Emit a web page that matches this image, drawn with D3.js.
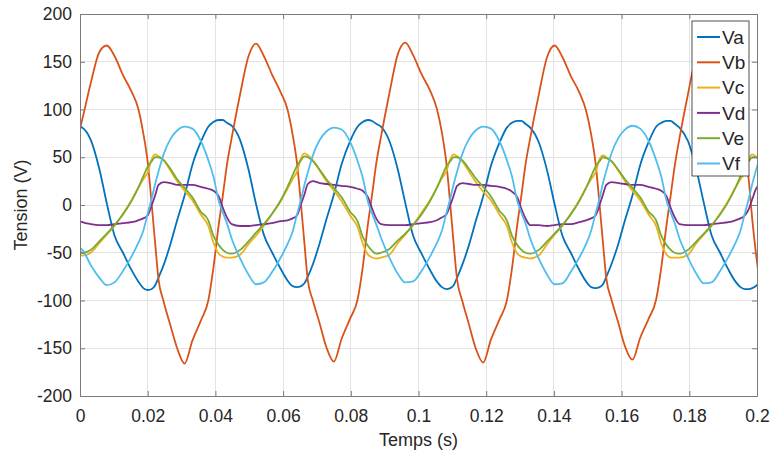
<!DOCTYPE html>
<html>
<head>
<meta charset="utf-8">
<script src="https://cdn.jsdelivr.net/npm/d3@7"></script>
<style>
  html, body { margin: 0; padding: 0; background: #fff; }
  svg { display: block; font-family: "Liberation Sans", Arial, Helvetica, sans-serif; }
</style>
</head>
<body>
<svg id="chart" width="772" height="457"></svg>
<script>
// ---- data ----
const timeS = [0,
 0.0007,0.0032,0.0057,0.0079,0.0102,0.0127,0.0152,0.0172,0.0187,0.0200,0.0212,0.0222,0.0232,0.0247,0.0267,0.0287,0.0309,0.0332,0.0357,0.0379,0.0394,0.0410,0.0422,0.0434,
 0.0448,0.0473,0.0498,0.0520,0.0543,0.0568,0.0593,0.0613,0.0628,0.0641,0.0653,0.0663,0.0673,0.0688,0.0708,0.0728,0.0750,0.0773,0.0798,0.0820,0.0835,0.0851,0.0863,0.0875,
 0.0889,0.0914,0.0939,0.0961,0.0984,0.1009,0.1034,0.1054,0.1069,0.1082,0.1094,0.1104,0.1114,0.1129,0.1149,0.1169,0.1191,0.1214,0.1239,0.1261,0.1276,0.1292,0.1304,0.1316,
 0.1330,0.1355,0.1380,0.1402,0.1425,0.1450,0.1475,0.1495,0.1510,0.1523,0.1535,0.1545,0.1555,0.1570,0.1590,0.1610,0.1632,0.1655,0.1680,0.1702,0.1717,0.1733,0.1745,0.1757,
 0.1771,0.1796,0.1821,0.1843,0.1866,0.1891,0.1916,0.1936,0.1951,0.1964,0.1976,0.1986,0.1996,0.2011];

const Va = [82,
 81,68,38,2,-32,-50,-68,-80,-87,-89,-88,-84,-76,-63,-41,-16,10,42,66,82,87,89,89,86,
 83,68,37,1,-31,-50,-67,-79,-85,-86,-85,-82,-75,-62,-40,-15,11,43,67,82,87,89,88,85,
 82,67,37,2,-32,-51,-68,-80,-86,-88,-87,-84,-76,-63,-42,-17,9,41,65,81,86,88,88,85,
 81,66,36,1,-32,-50,-68,-80,-86,-87,-86,-83,-75,-62,-41,-16,10,42,66,82,86,88,88,85,
 81,67,37,2,-32,-50,-68,-80,-86,-88,-88,-87,-85,-80];

const Vb = [80,
 90,128,160,167,156,136,119,101,75,45,0,-40,-78,-101,-126,-150,-166,-142,-121,-100,-66,-20,10,42,
 70,116,156,169,156,136,118,100,74,44,0,-40,-79,-100,-124,-149,-164,-140,-119,-99,-66,-19,11,43,
 71,117,158,170,157,137,120,101,76,45,0,-41,-78,-100,-125,-150,-165,-141,-120,-100,-67,-20,10,42,
 70,115,155,167,155,135,118,99,74,44,0,-40,-77,-99,-123,-148,-162,-139,-119,-99,-66,-20,10,41,
 70,116,156,166,154,134,117,100,82,60,25,-15,-48,-88];

const Vc = [-52,
 -53,-50,-40,-31,-22,-9,5,18,27,34,48,53,51,47,36,25,15,5,-10,-22,-39,-51,-54,-55,
 -55,-52,-41,-32,-22,-9,4,17,27,35,49,54,52,47,36,25,15,4,-11,-23,-40,-52,-55,-56,
 -55,-52,-40,-31,-21,-8,5,18,28,35,48,53,51,46,35,24,14,5,-10,-22,-39,-51,-54,-55,
 -56,-53,-41,-31,-22,-9,5,18,27,34,48,52,50,46,36,25,15,5,-10,-22,-40,-52,-55,-55,
 -55,-52,-40,-31,-22,-9,5,18,27,34,48,53,51,47];

const Vd = [-17,
 -18,-20,-21,-21,-20,-19,-18,-16,-14,-11,0,10,21,24,23,21,21,21,19,17,15,9,-3,-13,
 -20,-22,-22,-21,-20,-19,-17,-16,-14,-11,1,11,22,25,23,22,21,20,19,17,15,8,-4,-14,
 -20,-21,-21,-21,-20,-19,-18,-16,-13,-10,0,10,20,23,22,21,21,20,19,17,14,8,-4,-14,
 -21,-21,-22,-21,-20,-20,-18,-16,-14,-11,0,11,21,24,23,22,21,21,19,17,15,9,-3,-13,
 -20,-21,-21,-21,-20,-19,-18,-16,-14,-11,-4,6,16,24];

const Ve = [-49,
 -50,-47,-38,-30,-21,-10,4,18,30,40,46,50,50,47,38,27,18,8,-7,-16,-32,-42,-47,-50,
 -51,-47,-38,-29,-20,-9,5,19,31,41,47,51,50,46,37,27,18,8,-7,-17,-33,-43,-48,-51,
 -50,-46,-37,-30,-21,-10,4,18,30,40,46,50,50,47,38,28,19,9,-6,-16,-32,-42,-47,-50,
 -51,-47,-38,-30,-21,-10,4,18,30,40,46,50,49,46,37,27,18,8,-7,-16,-32,-42,-47,-50,
 -51,-47,-38,-30,-21,-10,4,18,30,40,46,50,50,47];

const Vf = [-45,
 -47,-63,-76,-84,-81,-69,-54,-40,-27,-9,7,22,35,53,69,78,82,80,67,47,30,4,-8,-19,
 -35,-56,-73,-83,-81,-70,-55,-41,-28,-10,6,21,34,52,68,77,81,79,66,46,29,3,-9,-20,
 -34,-55,-72,-81,-80,-69,-54,-40,-27,-9,7,22,35,53,69,78,82,80,67,47,30,4,-8,-19,
 -35,-56,-73,-83,-82,-70,-55,-41,-27,-9,7,23,36,54,70,79,83,80,67,47,30,4,-8,-19,
 -35,-55,-72,-82,-81,-69,-54,-40,-27,-9,7,22,35,53];

const seriesNames = ["Va","Vb","Vc","Vd","Ve","Vf"];
const seriesColors = ["#0072BD","#D95319","#EDB120","#7E2F8E","#77AC30","#4DBEEE"];
const xTicks = [0,0.02,0.04,0.06,0.08,0.1,0.12,0.14,0.16,0.18,0.2];
const xTickLabels = ["0","0.02","0.04","0.06","0.08","0.1","0.12","0.14","0.16","0.18","0.2"];
const yTicks = [-200,-150,-100,-50,0,50,100,150,200];
const yTickLabels = ["-200","-150","-100","-50","0","50","100","150","200"];
const xLabel = "Temps (s)";
const yLabel = "Tension (V)";

// ---- layout ----
const svg = d3.select("#chart");
const L = 80, R = 757, T = 14, B = 396;
const x = d3.scaleLinear().domain([0, 0.2]).range([L, R]);
const y = d3.scaleLinear().domain([-200, 200]).range([B, T]);
const textColor = "#262626";
const fontSize = 17.5;

// grid
const grid = svg.append("g");
grid.selectAll("line.gx").data(xTicks).enter().append("line")
  .attr("x1", d => x(d)).attr("x2", d => x(d)).attr("y1", T).attr("y2", B)
  .attr("stroke", "#e3e3e3").attr("stroke-width", 1).attr("shape-rendering", "crispEdges");
grid.selectAll("line.gy").data(yTicks).enter().append("line")
  .attr("y1", d => y(d)).attr("y2", d => y(d)).attr("x1", L).attr("x2", R)
  .attr("stroke", "#e3e3e3").attr("stroke-width", 1).attr("shape-rendering", "crispEdges");

// lines
svg.append("clipPath").attr("id", "clip").append("rect")
  .attr("x", L).attr("y", T).attr("width", R - L).attr("height", B - T);
const allSeries = [Va, Vb, Vc, Vd, Ve, Vf];
const line = d3.line().x((d, i) => x(timeS[i])).y(d => y(d)).curve(d3.curveMonotoneX);
const lg = svg.append("g").attr("clip-path", "url(#clip)");
allSeries.forEach((s, k) => {
  lg.append("path").datum(s).attr("d", line)
    .attr("fill", "none").attr("stroke", seriesColors[k])
    .attr("stroke-width", 1.8).attr("stroke-linejoin", "round");
});

// axes (box with inward ticks)
const axB = svg.append("g").attr("transform", `translate(0,${B})`)
  .call(d3.axisBottom(x).tickValues(xTicks).tickFormat((d, i) => xTickLabels[i]).tickSizeInner(-5).tickSizeOuter(0).tickPadding(14));
const axT = svg.append("g").attr("transform", `translate(0,${T})`)
  .call(d3.axisTop(x).tickValues(xTicks).tickFormat("").tickSizeInner(-5).tickSizeOuter(0));
const axL = svg.append("g").attr("transform", `translate(${L},0)`)
  .call(d3.axisLeft(y).tickValues(yTicks).tickFormat((d, i) => yTickLabels[i]).tickSizeInner(-5).tickSizeOuter(0).tickPadding(8));
const axR = svg.append("g").attr("transform", `translate(${R},0)`)
  .call(d3.axisRight(y).tickValues(yTicks).tickFormat("").tickSizeInner(-5).tickSizeOuter(0));
[axB, axT, axL, axR].forEach(a => {
  a.select(".domain").attr("stroke", "#7a7a7a").attr("stroke-width", 1);
  a.selectAll(".tick line").attr("stroke", "#7a7a7a");
  a.selectAll("text").attr("fill", textColor).style("font-size", fontSize + "px")
    .style("font-family", "'Liberation Sans', Arial, sans-serif");
});

// axis labels
svg.append("text").attr("x", (L + R) / 2).attr("y", 446).attr("text-anchor", "middle")
  .attr("fill", textColor).style("font-size", "18px").text(xLabel);
svg.append("text").attr("transform", `translate(27,${(T + B) / 2}) rotate(-90)`)
  .attr("text-anchor", "middle").attr("fill", textColor).style("font-size", "18px").text(yLabel);

// legend
const legX = 692, legY = 21, legW = 57, legH = 155;
const leg = svg.append("g");
leg.append("rect").attr("x", legX).attr("y", legY).attr("width", legW).attr("height", legH)
  .attr("fill", "#fff").attr("stroke", "#262626").attr("stroke-width", 0.8);
seriesNames.forEach((n, k) => {
  const cy = 37 + k * 25.3;
  leg.append("line").attr("x1", 697).attr("x2", 720).attr("y1", cy).attr("y2", cy)
    .attr("stroke", seriesColors[k]).attr("stroke-width", 2);
  leg.append("text").attr("x", 722).attr("y", cy).attr("dy", "0.35em")
    .attr("fill", textColor).style("font-size", "19px").text(n);
});
</script>
</body>
</html>
